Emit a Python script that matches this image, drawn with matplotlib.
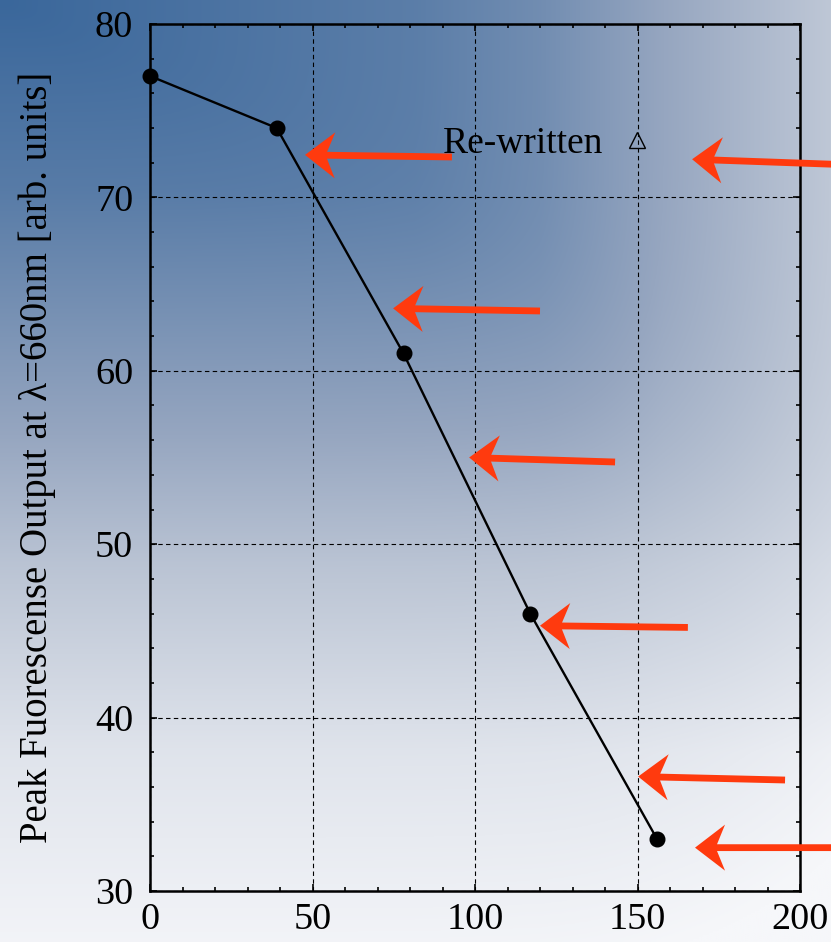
import numpy as np
import matplotlib
matplotlib.use("Agg")
import matplotlib.pyplot as plt
from matplotlib.lines import Line2D
from matplotlib.patches import Polygon
from matplotlib.transforms import IdentityTransform
from matplotlib.ticker import MultipleLocator

plt.rcParams['font.family'] = ['Liberation Serif', 'DejaVu Serif']

# ---- data ----
x_vals = [0, 39, 78, 117, 156]
y_vals = [77, 74, 61, 46, 33]
legend_label = "Re-written"
xlabel_ticks = [0, 50, 100, 150, 200]
ylabel_ticks = [30, 40, 50, 60, 70, 80]
ylabel = "Peak Fuorescense Output at λ=660nm [arb. units]"
# red arrows (tip, tail) in data coordinates
arrow_tips = [(47.7, 72.45), (74.8, 63.6), (98.2, 55.0), (120.0, 45.3), (150.2, 36.6), (167.7, 32.5), (166.8, 72.2)]
arrow_tails = [(92.9, 72.33), (120.0, 63.45), (143.1, 54.74), (165.5, 45.2), (195.4, 36.4), (212.0, 32.5), (212.0, 71.9)]

W, H = 831, 942
fig = plt.figure(figsize=(W / 100, H / 100), dpi=100)

# background gradient
bg = fig.add_axes([0, 0, 1, 1], zorder=-10)
xx, yy = np.meshgrid(np.linspace(0, 1, 420), np.linspace(0, 1, 470))
ty = np.interp(yy, [0, 0.2, 0.4, 0.6, 0.8, 1.0], [0.0, 0.16, 0.42, 0.68, 0.88, 0.98])
tx = np.interp(xx, [0, 0.5, 0.65, 0.8, 1.0], [0.0, 0.18, 0.3, 0.5, 0.7])
t = np.clip((tx ** 4 + ty ** 4) ** 0.25, 0, 1)
stops_t = [0.0, 0.5, 0.7, 1.0]
stops_c = np.array([[58, 103, 155], [150, 166, 192], [190, 199, 214], [246, 247, 250]]) / 255.0
img = np.stack([np.interp(t, stops_t, stops_c[:, k]) for k in range(3)], axis=-1)
bg.imshow(img, extent=[0, 1, 0, 1], aspect='auto', origin='upper')
bg.set_axis_off()

ax = fig.add_axes([150 / W, 1 - 891 / H, 650 / W, 867 / H])
ax.set_facecolor('none')

ax.plot(x_vals, y_vals, color='black', lw=1.7, marker='o', ms=10.5, zorder=3, clip_on=False)

ax.set_xlim(0, 200)
ax.set_ylim(30, 80)
ax.set_xticks(xlabel_ticks)
ax.set_yticks(ylabel_ticks)
ax.xaxis.set_minor_locator(MultipleLocator(10))
ax.yaxis.set_minor_locator(MultipleLocator(2))
ax.tick_params(which='both', direction='in', top=True, right=True, color='black', width=1.2)
ax.tick_params(which='major', length=5)
ax.tick_params(which='minor', length=3)
ax.tick_params(axis='x', which='major', labelsize=27.5, pad=8)
ax.tick_params(axis='y', which='major', labelsize=27.5, pad=12)
for s in ax.spines.values():
    s.set_linewidth(1.8)
ax.grid(True, which='major', color='black', ls=(0, (4, 3)), lw=0.8)

ax.set_ylabel(ylabel, fontsize=28, labelpad=28)

h = Line2D([], [], ls='none', marker='^', ms=11, mfc='none', mec='black', mew=1.0)
ax.legend([h], [legend_label], markerfirst=False, frameon=False, loc='center right',
          bbox_to_anchor=(0.79, 0.862), fontsize=27, handlelength=1.4, handletextpad=0.2,
          borderpad=0, borderaxespad=0)

# notched red arrows, built in pixel space from the data-coordinate tips/tails
red = '#ff3a0e'
head_len, barb_half, notch, shaft_half = 30.0, 23.0, 22.0, 3.4
for tip, tail in zip(arrow_tips, arrow_tails):
    p0 = ax.transData.transform(tip)
    p1 = ax.transData.transform(tail)
    d = p1 - p0
    L = np.hypot(*d)
    u = d / L
    n = np.array([-u[1], u[0]])
    local = [(0, 0), (head_len, barb_half), (notch, shaft_half), (L, shaft_half),
             (L, -shaft_half), (notch, -shaft_half), (head_len, -barb_half)]
    verts = [p0 + a * u + b * n for a, b in local]
    fig.add_artist(Polygon(verts, closed=True, facecolor=red, edgecolor='none',
                           transform=IdentityTransform(), zorder=5))

fig.savefig('out.png', dpi=100)
